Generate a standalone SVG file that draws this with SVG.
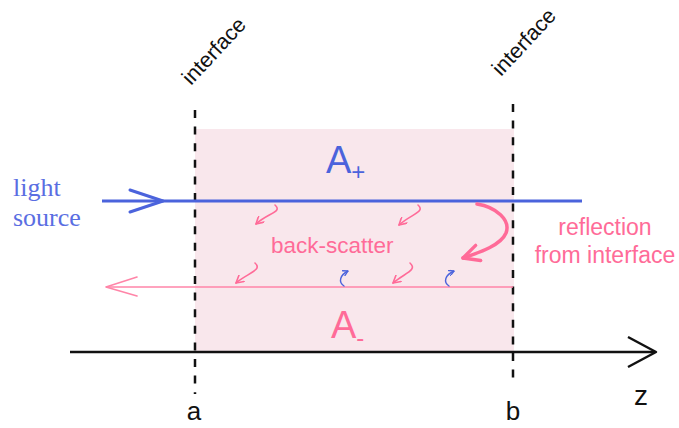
<svg xmlns="http://www.w3.org/2000/svg" width="679" height="428" viewBox="0 0 679 428">
<style>
  .sans { font-family: "Liberation Sans", Arial, sans-serif; }
  .serif { font-family: "Liberation Serif", "Times New Roman", serif; }
  .dash { stroke: #111; stroke-width: 2.5; stroke-dasharray: 8 8.6; fill: none; }
  .pinktxt { fill: #ff6b98; }
  .bluetxt { fill: #5a6ee2; }
  .hookp { fill: none; stroke: #ff6b98; stroke-width: 1.6; stroke-linecap: round; }
  .hookb { fill: none; stroke: #4b63dc; stroke-width: 1.4; stroke-linecap: round; }
</style>
<defs>
  <marker id="ahp" viewBox="0 0 10 10" refX="9" refY="5" markerWidth="9" markerHeight="9" orient="auto" markerUnits="userSpaceOnUse">
    <path d="M1,0.5 L9,5 L1,9.5" fill="none" stroke="#ff6b98" stroke-width="1.8" stroke-linecap="round" stroke-linejoin="round"/>
  </marker>
  <marker id="ahb" viewBox="0 0 10 10" refX="9" refY="5" markerWidth="6" markerHeight="6" orient="auto" markerUnits="userSpaceOnUse">
    <path d="M1,0.5 L9,5 L1,9.5" fill="none" stroke="#4b63dc" stroke-width="2.2" stroke-linecap="round" stroke-linejoin="round"/>
  </marker>
  <marker id="ahbig" viewBox="0 0 10 10" refX="9" refY="5" markerWidth="20" markerHeight="20" orient="auto" markerUnits="userSpaceOnUse">
    <path d="M1,1 L9,5 L1,9" fill="none" stroke="#ff6b98" stroke-width="1.7" stroke-linecap="round" stroke-linejoin="round"/>
  </marker>
</defs>

<rect id="region" x="195" y="129" width="319" height="223" fill="#f9e7ec"/>

<g id="interface-a">
  <line class="dash" x1="195" y1="110" x2="195" y2="394"/>
  <text class="sans" font-size="21.5" fill="#111" transform="translate(191,86) rotate(-47)">interface</text>
  <text class="sans" font-size="26" fill="#111" x="194" y="420" text-anchor="middle">a</text>
</g>
<g id="interface-b">
  <line class="dash" x1="513" y1="104" x2="513" y2="381"/>
  <text class="sans" font-size="21.5" fill="#111" transform="translate(501,77) rotate(-47)">interface</text>
  <text class="sans" font-size="26" fill="#111" x="513" y="420" text-anchor="middle">b</text>
</g>

<g id="light-source">
  <text class="serif bluetxt" font-size="26" x="13" y="196">light</text>
  <text class="serif bluetxt" font-size="26" x="13" y="226">source</text>
</g>

<g id="A-plus">
  <text class="sans" font-size="38" fill="#4b63dc" x="326" y="173">A<tspan font-size="24" dy="7">+</tspan></text>
</g>
<g id="A-minus">
  <text class="sans" font-size="38" fill="#ff6b98" x="331" y="338">A<tspan font-size="24" dy="8">-</tspan></text>
</g>

<g id="back-scatter-label">
  <text class="sans pinktxt" font-size="22.5" x="271" y="253">back-scatter</text>
</g>
<g id="reflection-label">
  <text class="sans pinktxt" font-size="23" x="605" y="235" text-anchor="middle">reflection</text>
  <text class="sans pinktxt" font-size="23" x="605" y="263" text-anchor="middle">from interface</text>
</g>

<g id="z-axis">
  <line x1="70" y1="352" x2="655" y2="352" stroke="#111" stroke-width="2.5"/>
  <polyline points="628,337 656,352 628,367" fill="none" stroke="#111" stroke-width="2.5" stroke-linejoin="round"/>
  <text class="sans" font-size="28" fill="#111" x="641" y="405" text-anchor="middle">z</text>
</g>

<g id="connectors">
  <!-- forward wave A+ -->
  <line x1="102" y1="201" x2="582" y2="201" stroke="#4b63dc" stroke-width="3"/>
  <polyline points="130,190 163,201 130,212" fill="none" stroke="#4b63dc" stroke-width="3" stroke-linejoin="round" stroke-linecap="round"/>
  <!-- backward wave A- -->
  <line x1="106" y1="287" x2="513" y2="287" stroke="#ff85a8" stroke-width="1.6"/>
  <polyline points="137,277 106,287 137,296" fill="none" stroke="#ff85a8" stroke-width="1.6" stroke-linejoin="round" stroke-linecap="round"/>
  <!-- back-scatter hooks -->
  <path class="hookp" d="M275,205 C283,212 268,213 256,224" marker-end="url(#ahp)"/>
  <path class="hookp" d="M418,205 C426,212 411,214 399,225" marker-end="url(#ahp)"/>
  <path class="hookp" d="M255,263 C263,270 248,273 236,283" marker-end="url(#ahp)"/>
  <path class="hookp" d="M410,263 C418,270 405,273 393,283" marker-end="url(#ahp)"/>
  <!-- forward scatter hooks -->
  <path class="hookb" d="M344,286 C338,282 340,275 348,271" marker-end="url(#ahb)"/>
  <path class="hookb" d="M449,286 C443,282 445,275 454,271" marker-end="url(#ahb)"/>
  <!-- reflection from interface -->
  <path d="M477,204 C496,207 511,220 506,233 C501,245 481,252 463,258" fill="none" stroke="#ff6b98" stroke-width="3.5" stroke-linecap="round" marker-end="url(#ahbig)"/>
</g>
</svg>
